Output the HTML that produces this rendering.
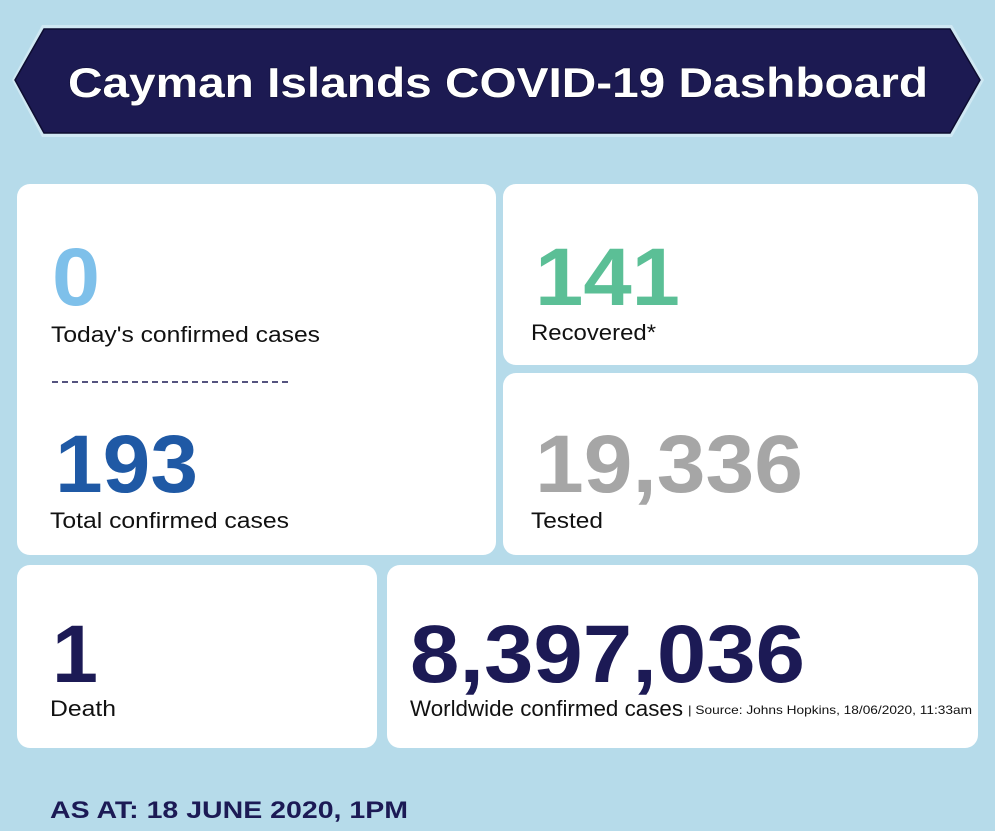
<!DOCTYPE html>
<html><head><meta charset="utf-8"><style>
html,body{margin:0;padding:0;background:#b6dbea;}
svg{display:block}
text{font-family:"Liberation Sans",sans-serif;}
</style></head><body>
<svg width="995" height="831" viewBox="0 0 995 831" xmlns="http://www.w3.org/2000/svg">
<rect width="995" height="831" fill="#b6dbea"/>
<polygon points="12,80 42,25 952,25 984,80 952,137 42,137" fill="#cfe8f3"/>
<polygon points="15,80 44,29 950,29 980,80 950,133 44,133" fill="#1c1a52" stroke="#0d0c30" stroke-width="1.5"/>
<text x="68" y="97" textLength="860" lengthAdjust="spacingAndGlyphs" font-size="42" font-weight="bold" fill="#fff" stroke="#0d0c30" stroke-width="1" paint-order="stroke">Cayman Islands COVID-19 Dashboard</text>
<g fill="#fff">
<rect x="17" y="184" width="479" height="371" rx="13"/>
<rect x="503" y="184" width="475" height="181" rx="13"/>
<rect x="503" y="373" width="475" height="182" rx="13"/>
<rect x="17" y="565" width="360" height="183" rx="13"/>
<rect x="387" y="565" width="591" height="183" rx="13"/>
</g>
<g font-weight="bold" font-size="82" lengthAdjust="spacingAndGlyphs">
<text x="52" y="305" fill="#7ec0ea" textLength="48" lengthAdjust="spacingAndGlyphs">0</text>
<text x="55" y="492" fill="#1f59a5" textLength="143" lengthAdjust="spacingAndGlyphs">193</text>
<text x="535" y="305" fill="#5bbf96" textLength="145" lengthAdjust="spacingAndGlyphs">141</text>
<text x="535" y="492" fill="#a6a6a6" textLength="268" lengthAdjust="spacingAndGlyphs">19,336</text>
<text x="52" y="682" fill="#1c1a55" textLength="46" lengthAdjust="spacingAndGlyphs">1</text>
<text x="410" y="682" fill="#1c1a55" textLength="395" lengthAdjust="spacingAndGlyphs">8,397,036</text>
</g>
<line x1="52" y1="382" x2="290" y2="382" stroke="#1c1a55" stroke-width="1.5" stroke-dasharray="6,4"/>
<g font-size="22" fill="#111">
<text x="51" y="342" textLength="269" lengthAdjust="spacingAndGlyphs">Today's confirmed cases</text>
<text x="50" y="528" textLength="239" lengthAdjust="spacingAndGlyphs">Total confirmed cases</text>
<text x="531" y="340" textLength="125" lengthAdjust="spacingAndGlyphs">Recovered*</text>
<text x="531" y="528" textLength="72" lengthAdjust="spacingAndGlyphs">Tested</text>
<text x="50" y="716" textLength="66" lengthAdjust="spacingAndGlyphs">Death</text>
<text x="410" y="716" textLength="273" lengthAdjust="spacingAndGlyphs">Worldwide confirmed cases</text>
<text x="688" y="714" font-size="12" textLength="284" lengthAdjust="spacingAndGlyphs">| Source: Johns Hopkins, 18/06/2020, 11:33am</text>
</g>
<text x="50" y="818" font-size="24" font-weight="bold" fill="#1c1a55" textLength="358" lengthAdjust="spacingAndGlyphs">AS AT: 18 JUNE 2020, 1PM</text>
</svg>
</body></html>
